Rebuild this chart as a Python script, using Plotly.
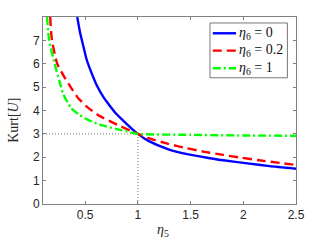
import plotly.graph_objects as go

# ---- data ----
eta5_b = [0.425, 0.453, 0.484, 0.516, 0.563, 0.610, 0.672, 0.719, 0.79, 0.90, 1.0, 1.10, 1.29, 1.48, 1.67, 1.81, 2.04, 2.25, 2.5]
kurt_b = [8.0, 7.30, 6.73, 6.15, 5.58, 5.08, 4.58, 4.29, 3.88, 3.40, 3.0, 2.70, 2.34, 2.12, 1.97, 1.87, 1.74, 1.62, 1.51]

eta5_r = [0.168, 0.185, 0.235, 0.30, 0.37, 0.43, 0.506, 0.631, 0.804, 0.96, 1.0, 1.10, 1.29, 1.46, 1.635, 1.81, 1.98, 2.15, 2.36, 2.5]
kurt_r = [8.0, 7.0, 6.0, 5.45, 4.95, 4.55, 4.20, 3.78, 3.39, 3.08, 3.0, 2.82, 2.57, 2.39, 2.23, 2.10, 1.98, 1.87, 1.75, 1.67]

eta5_g = [0.138, 0.158, 0.21, 0.272, 0.287, 0.365, 0.443, 0.537, 0.663, 0.851, 1.0, 1.5, 2.0, 2.5]
kurt_g = [8.0, 7.0, 6.0, 5.0, 4.75, 4.11, 3.82, 3.58, 3.36, 3.15, 3.0, 2.96, 2.93, 2.92]

ref_h_x = [0.1, 1.0]
ref_h_y = [3.0, 3.0]
ref_v_x = [1.0, 1.0]
ref_v_y = [0.0, 3.0]

labels = ["<i>η</i><sub>6</sub> = 0", "<i>η</i><sub>6</sub> = 0.2", "<i>η</i><sub>6</sub> = 1"]
x_ticks = [0.5, 1, 1.5, 2, 2.5]
x_tick_text = ["0.5", "1", "1.5", "2", "2.5"]
y_ticks = [0, 1, 2, 3, 4, 5, 6, 7]

colors = ["#0000ff", "#ff0000", "#00ff00"]
dashes = ["solid", "9px,5px", "8px,3px,2px,3px"]

fig = go.Figure()
for xs, ys in [(ref_h_x, ref_h_y), (ref_v_x, ref_v_y)]:
    fig.add_trace(go.Scatter(x=xs, y=ys, mode="lines",
                             line=dict(color="#555555", width=0.8, dash="1px,2px"),
                             showlegend=False, hoverinfo="skip"))

for xs, ys, c, d in [(eta5_b, kurt_b, colors[0], dashes[0]),
                     (eta5_r, kurt_r, colors[1], dashes[1]),
                     (eta5_g, kurt_g, colors[2], dashes[2])]:
    fig.add_trace(go.Scatter(x=xs, y=ys, mode="lines",
                             line=dict(color=c, width=2.4, dash=d, shape="spline", smoothing=0.5),
                             showlegend=False))

# custom legend (paper coordinates)
lx0, lx1, ly0, ly1 = 0.660, 0.966, 0.675, 0.968
fig.add_shape(type="rect", xref="paper", yref="paper", x0=lx0, x1=lx1, y0=ly0, y1=ly1,
              line=dict(color="#777777", width=1), fillcolor="white", layer="above")
row_y = [0.913, 0.820, 0.726]
for i in range(3):
    fig.add_shape(type="line", xref="paper", yref="paper", x0=0.671, x1=0.763,
                  y0=row_y[i], y1=row_y[i], line=dict(color=colors[i], width=2.4, dash=dashes[i]),
                  layer="above")
    fig.add_annotation(xref="paper", yref="paper", x=0.767, y=row_y[i], text=labels[i],
                       showarrow=False, xanchor="left", yanchor="middle",
                       font=dict(family="Liberation Serif", size=14, color="#111111"))

# axis titles
fig.add_annotation(xref="paper", yref="paper", x=-0.115, y=0.45, text="Kurt[<i>U</i>]",
                   textangle=-90, showarrow=False, xanchor="center", yanchor="middle",
                   font=dict(family="Liberation Serif", size=14, color="#262626"))
fig.add_annotation(xref="paper", yref="paper", x=0.475, y=-0.14, text="<i>η</i><sub>5</sub>",
                   showarrow=False, xanchor="center", yanchor="middle",
                   font=dict(family="Liberation Serif", size=14, color="#262626"))

axis_common = dict(showline=True, linecolor="#808080", linewidth=1, mirror="ticks",
                   ticks="inside", ticklen=3, tickcolor="#808080", tickwidth=1,
                   showgrid=False, zeroline=False,
                   tickfont=dict(family="Liberation Sans", size=12, color="#262626"))

fig.update_xaxes(range=[0.1, 2.5], tickvals=x_ticks, ticktext=x_tick_text, **axis_common)
fig.update_yaxes(range=[0, 8], tickvals=y_ticks, **axis_common)

fig.update_layout(width=327, height=245, margin=dict(l=43, r=31, t=17, b=41, pad=0),
                  plot_bgcolor="white", paper_bgcolor="white", showlegend=False)

fig.write_html("out.html", config={"displayModeBar": False},
               post_script="document.body.style.margin='0';document.body.style.overflow='hidden';")
